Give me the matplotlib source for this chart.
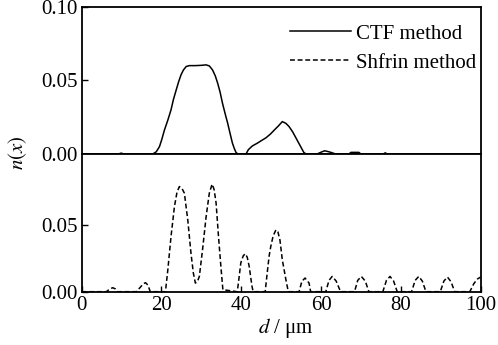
import matplotlib
matplotlib.use("Agg")
import matplotlib.pyplot as plt

# ----------------------------------
# Data
# ----------------------------------
ctf_d = [0, 9.2, 9.9, 10.6, 17.8, 18.7, 19.5, 20.1, 20.75, 21.6, 22.4, 23.0,
         23.7, 24.3, 24.9, 25.5, 26.2, 27.0, 28.5, 30.0, 31.2, 32.0, 32.8,
         33.5, 34.1, 34.7, 35.3, 36.0, 36.6, 37.2, 37.8, 38.3, 38.7, 39.2,
         41.2, 41.8, 42.8, 44.0, 45.0, 46.2, 47.3, 48.3, 49.3, 50.3, 51.2,
         52.0, 52.9, 53.7, 54.7, 55.7, 56.3, 59.0, 60.0, 60.9, 62.0, 63.7,
         67.0, 67.5, 69.0, 69.5, 70.0, 75.6, 76.1, 76.6, 100]
ctf_n = [0, 0, 0.0006, 0, 0, 0.0015, 0.005, 0.010, 0.0163, 0.023, 0.030, 0.037,
         0.0435, 0.049, 0.0537, 0.057, 0.0594, 0.060, 0.060, 0.0602, 0.0605,
         0.0598, 0.0571, 0.053, 0.048, 0.042, 0.0345, 0.027, 0.0209, 0.014,
         0.0073, 0.0035, 0.001, 0,
         0, 0.003, 0.0055, 0.0073, 0.009, 0.011, 0.0135, 0.0163, 0.019, 0.022,
         0.0208, 0.0186, 0.015, 0.011, 0.006, 0.001, 0, 0, 0.0012, 0.0022,
         0.0015, 0, 0, 0.0011, 0.0011, 0.0011, 0, 0, 0.0008, 0, 0]

shf_d = [0, 6.2, 7.0, 7.8, 8.5, 9.0, 13.7, 14.6, 15.4, 16.0, 16.6, 17.2,
         21.0, 21.6, 22.4, 23.25, 23.9, 24.5, 25.1, 25.75, 26.6, 27.4, 28.0,
         28.5, 29.0, 29.5, 30.3, 31.2, 32.0, 32.7, 33.2, 33.7, 34.3, 34.9, 35.4,
         39.0, 39.3, 39.9, 40.5, 41.0, 41.5, 42.0, 42.7, 43.0,
         46.0, 46.6, 47.0, 47.4, 48.0, 48.7, 49.2, 49.7, 50.3, 51.2, 51.8,
         54.5, 55.2, 56.0, 57.0, 57.4,
         61.2, 62.0, 62.8, 63.8, 64.9,
         68.4, 69.2, 70.1, 71.1, 72.0,
         75.5, 76.4, 77.3, 78.2, 79.1,
         82.7, 83.6, 84.5, 85.4, 86.3,
         89.9, 90.8, 91.7, 92.6, 93.5,
         97.3, 98.3, 99.2, 100]
shf_n = [0, 0, 0.002, 0.003, 0.002, 0, 0, 0.003, 0.0058, 0.0068, 0.005, 0,
         0, 0.0165, 0.0416, 0.064, 0.075, 0.0792, 0.078, 0.0742, 0.054, 0.029,
         0.014, 0.0065, 0.0075, 0.0115, 0.0316, 0.0566, 0.0742, 0.081, 0.077,
         0.0667, 0.0416, 0.019, 0.0015,
         0, 0.0068, 0.0218, 0.027, 0.0286, 0.026, 0.019, 0.004, 0,
         0, 0.0165, 0.027, 0.034, 0.042, 0.0466, 0.045, 0.039, 0.024, 0.009, 0,
         0, 0.0078, 0.0103, 0.0065, 0,
         0, 0.0085, 0.0115, 0.008, 0,
         0, 0.0085, 0.0115, 0.008, 0,
         0, 0.0085, 0.0115, 0.008, 0,
         0, 0.0085, 0.0115, 0.008, 0,
         0, 0.008, 0.011, 0.0075, 0,
         0, 0.006, 0.0095, 0.011]

x_ticks = [0, 20, 40, 60, 80, 100]

# ----------------------------------
# Style
# ----------------------------------
plt.rcParams["font.family"] = ["Liberation Serif", "DejaVu Serif"]
plt.rcParams["mathtext.fontset"] = "stix"
plt.rcParams["font.size"] = 15

fig = plt.figure(figsize=(4.98, 3.45), dpi=100)
L, R = 0.164, 0.965
ax1 = fig.add_axes([L, 0.5536, R - L, 0.9806 - 0.5536])
ax2 = fig.add_axes([L, 0.1545, R - L, 0.5536 - 0.1545])

for ax in (ax1, ax2):
    for s in ax.spines.values():
        s.set_linewidth(1.3)
    ax.set_xlim(0, 100)

# top panel
ax1.plot(ctf_d, ctf_n, color="black", lw=1.1, label="CTF method")
ax1.plot([], [], color="black", lw=1.1, dashes=(3.2, 1.8), label="Shfrin method")
ax1.set_ylim(0, 0.1)
ax1.set_yticks([0, 0.05, 0.10])
ax1.set_yticklabels(["0.00", "0.05", "0.10"])
ax1.tick_params(axis="y", direction="in", length=4, width=1, pad=3)
ax1.tick_params(axis="x", bottom=False, labelbottom=False)
ax1.legend(loc="upper right", bbox_to_anchor=(1.015, 0.952), frameon=False,
           handlelength=2.9, handletextpad=0.25, borderaxespad=0.2,
           labelspacing=0.45, borderpad=0.3, fontsize=15)

# bottom panel
ax2.plot(shf_d, shf_n, color="black", lw=1.1, dashes=(3.2, 1.8))
ax2.set_ylim(0, 0.1037)
ax2.set_yticks([0, 0.05])
ax2.set_yticklabels(["0.00", "0.05"])
ax2.set_xticks(x_ticks)
ax2.tick_params(axis="both", direction="in", length=4, width=1)
ax2.tick_params(axis="y", pad=3)
ax2.tick_params(axis="x", pad=3)

fig.text(18 / 498, 1 - 153 / 345, "$n(x)$", rotation=90,
         ha="center", va="center", fontsize=15)
fig.text(286 / 498, 1 - 328 / 345, "$d$ / μm", ha="center", va="center",
         fontsize=15)

fig.savefig("out.png", dpi=100)
